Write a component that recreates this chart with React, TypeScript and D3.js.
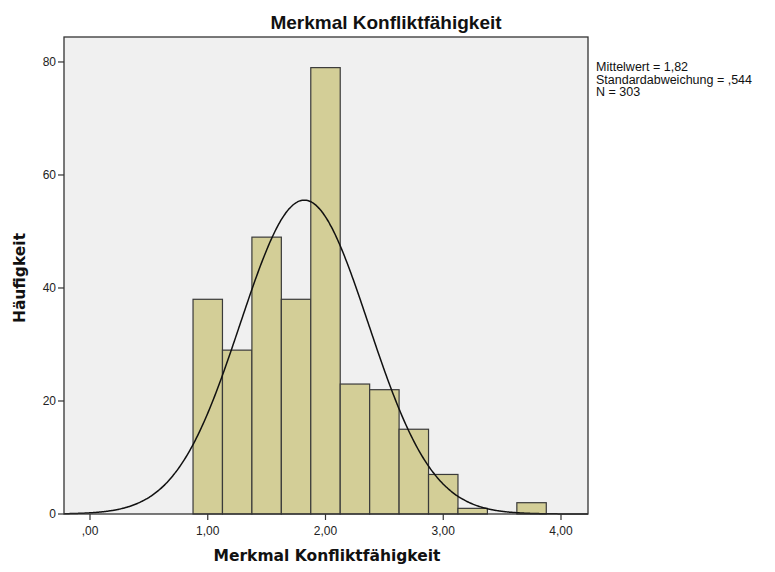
import React from "react";
import * as d3 from "d3";

const binCenters = [1.0, 1.25, 1.5, 1.75, 2.0, 2.25, 2.5, 2.75, 3.0, 3.25, 3.5, 3.75];
const binCounts = [38, 29, 49, 38, 79, 23, 22, 15, 7, 1, 0, 2];
const binWidth = 0.25;
const xTicks = [0, 1, 2, 3, 4];
const yTicks = [0, 20, 40, 60, 80];
const meanValue = 1.82;
const sdValue = 0.544;
const nValue = 303;
const legendLines = ["Mittelwert = 1,82", "Standardabweichung = ,544", "N = 303"];
const titleText = "Merkmal Konfliktfähigkeit";
const xTitle = "Merkmal Konfliktfähigkeit";
const yTitle = "Häufigkeit";

const W = 775;
const H = 572;
const left = 64, right = 588, top = 37, bottom = 514;

const fmtX = (v: number) => {
  const s = v.toFixed(2).replace(".", ",");
  return s.startsWith("0") ? s.slice(1) : s;
};

export default function App() {
  const x = d3.scaleLinear().domain([-0.2208, 4.2293]).range([left, right]);
  const y = d3.scaleLinear().domain([0, 84.42]).range([bottom, top]);

  const scale = nValue * binWidth;
  const pdf = (v: number) =>
    (scale / (sdValue * Math.sqrt(2 * Math.PI))) *
    Math.exp(-0.5 * ((v - meanValue) / sdValue) ** 2);
  const xs = d3.range(0, 401).map((i) => x.invert(left + ((right - left) * i) / 400));
  const line = d3
    .line<number>()
    .x((v) => x(v))
    .y((v) => y(pdf(v)))
    .curve(d3.curveBasis);

  const font = "'Liberation Sans', Arial, sans-serif";
  const boldFont = "'DejaVu Sans', Verdana, sans-serif";

  return (
    <svg width={W} height={H} style={{ position: "absolute", left: 0, top: 0, background: "#fff" }}>
      <rect x={left} y={top} width={right - left} height={bottom - top} fill="#F0F0F0" />
      {binCenters.map((c, i) =>
        binCounts[i] > 0 ? (
          <rect
            key={i}
            x={x(c - binWidth / 2)}
            y={y(binCounts[i])}
            width={x(c + binWidth / 2) - x(c - binWidth / 2)}
            height={y(0) - y(binCounts[i])}
            fill="#D3CE97"
            stroke="#3A3A3A"
            strokeWidth={1.2}
          />
        ) : null
      )}
      <path d={line(xs) || ""} fill="none" stroke="#111" strokeWidth={1.5} />
      <rect x={left} y={top} width={right - left} height={bottom - top} fill="none" stroke="#333" strokeWidth={1.3} />
      {yTicks.map((t) => (
        <g key={"y" + t}>
          <line x1={left - 6} x2={left} y1={y(t)} y2={y(t)} stroke="#333" strokeWidth={1.2} />
          <text x={left - 8} y={y(t) + 4} textAnchor="end" fontFamily={font} fontSize={12} fill="#222">
            {t}
          </text>
        </g>
      ))}
      {xTicks.map((t) => (
        <g key={"x" + t}>
          <line x1={x(t)} x2={x(t)} y1={bottom} y2={bottom + 6} stroke="#333" strokeWidth={1.2} />
          <text x={x(t)} y={bottom + 21} textAnchor="middle" fontFamily={font} fontSize={12} fill="#222">
            {fmtX(t)}
          </text>
        </g>
      ))}
      <text x={386} y={29} textAnchor="middle" fontFamily={font} fontWeight="bold" fontSize={19} fill="#111">
        {titleText}
      </text>
      <text x={327} y={561} textAnchor="middle" fontFamily={boldFont} fontWeight="bold" fontSize={15.5} fill="#111">
        {xTitle}
      </text>
      <text
        transform={`translate(25, 278) rotate(-90)`}
        textAnchor="middle"
        fontFamily={boldFont}
        fontWeight="bold"
        fontSize={15.5}
        fill="#111"
      >
        {yTitle}
      </text>
      {legendLines.map((s, i) => (
        <text key={s} x={596} y={71 + i * 12.5} fontFamily={font} fontSize={12.5} fill="#111">
          {s}
        </text>
      ))}
    </svg>
  );
}
